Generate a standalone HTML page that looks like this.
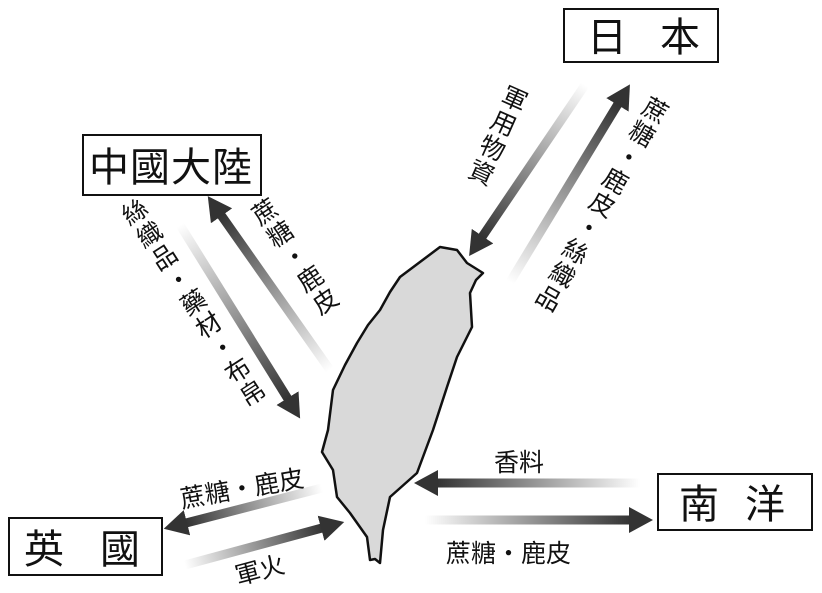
<!DOCTYPE html>
<html><head><meta charset="utf-8"><style>
html,body{margin:0;padding:0;background:#fff;}
svg{display:block;}
text{font-family:"Liberation Sans","Noto Sans CJK TC",sans-serif;fill:#111;}
.v{writing-mode:tb;letter-spacing:2px;}
</style></head><body>
<svg width="822" height="593" viewBox="0 0 822 593" xmlns="http://www.w3.org/2000/svg">
<defs>
<marker id="h" markerUnits="userSpaceOnUse" markerWidth="24" markerHeight="26" refX="1" refY="13" orient="auto"><path d="M0,0 L24,13 L0,26 z" fill="#333"/></marker>
<linearGradient id="g1" gradientUnits="userSpaceOnUse" x1="585" y1="85" x2="482" y2="237"><stop offset="0" stop-color="#fff"/><stop offset="1" stop-color="#333"/></linearGradient>
<linearGradient id="g2" gradientUnits="userSpaceOnUse" x1="510" y1="282" x2="618" y2="104"><stop offset="0" stop-color="#fff"/><stop offset="1" stop-color="#333"/></linearGradient>
<linearGradient id="g3" gradientUnits="userSpaceOnUse" x1="330" y1="370" x2="221" y2="215"><stop offset="0" stop-color="#fff"/><stop offset="1" stop-color="#333"/></linearGradient>
<linearGradient id="g4" gradientUnits="userSpaceOnUse" x1="180" y1="225" x2="288" y2="399"><stop offset="0" stop-color="#fff"/><stop offset="1" stop-color="#333"/></linearGradient>
<linearGradient id="g5" gradientUnits="userSpaceOnUse" x1="322" y1="488" x2="186" y2="523"><stop offset="0" stop-color="#fff"/><stop offset="1" stop-color="#333"/></linearGradient>
<linearGradient id="g6" gradientUnits="userSpaceOnUse" x1="185" y1="565" x2="322" y2="528"><stop offset="0" stop-color="#fff"/><stop offset="1" stop-color="#333"/></linearGradient>
<linearGradient id="g7" gradientUnits="userSpaceOnUse" x1="640" y1="483" x2="437" y2="483"><stop offset="0" stop-color="#fff"/><stop offset="1" stop-color="#333"/></linearGradient>
<linearGradient id="g8" gradientUnits="userSpaceOnUse" x1="425" y1="520" x2="630" y2="520"><stop offset="0" stop-color="#fff"/><stop offset="1" stop-color="#333"/></linearGradient>
</defs>

<path d="M440,247 L457,250 L467,263 L483,273 L476,280 L470,293 L472,327 L457,357 L447,387 L433,430 L417,473 L390,497 L383,530 L380,563 L375,559 L370,560 L367,537 L350,513 L337,497 L333,470 L322,452 L328,430 L333,390 L345,365 L357,343 L368,325 L380,310 L390,292 L400,277 L420,262 Z" fill="#d9d9d9" stroke="#111" stroke-width="2.5" stroke-linejoin="round"/>

<g stroke-width="9" fill="none">
<line x1="585" y1="85" x2="482" y2="237" stroke="url(#g1)" marker-end="url(#h)"/>
<line x1="510" y1="282" x2="618" y2="104" stroke="url(#g2)" marker-end="url(#h)"/>
<line x1="330" y1="370" x2="221" y2="215" stroke="url(#g3)" marker-end="url(#h)"/>
<line x1="180" y1="225" x2="288" y2="399" stroke="url(#g4)" marker-end="url(#h)"/>
<line x1="322" y1="488" x2="186" y2="523" stroke="url(#g5)" marker-end="url(#h)"/>
<line x1="185" y1="565" x2="322" y2="528" stroke="url(#g6)" marker-end="url(#h)"/>
<line x1="640" y1="483" x2="437" y2="483" stroke="url(#g7)" marker-end="url(#h)"/>
<line x1="425" y1="520" x2="630" y2="520" stroke="url(#g8)" marker-end="url(#h)"/>
</g>

<g fill="#fff" stroke="#111" stroke-width="2">
<rect x="564" y="9" width="154" height="53"/>
<rect x="83" y="135" width="178" height="60"/>
<rect x="9" y="518" width="153" height="57"/>
<rect x="658" y="474" width="154" height="56"/>
</g>
<g font-size="40">
<text x="587" y="51">日</text><text x="660" y="51">本</text>
<text x="89" y="181" letter-spacing="1">中國大陸</text>
<text x="24" y="563">英</text><text x="100" y="563">國</text>
<text x="679" y="518">南</text><text x="745" y="518">洋</text>
</g>

<g font-size="25">
<text class="v" transform="translate(518,86) rotate(24)">軍用物資</text>
<text class="v" transform="translate(660,98) rotate(29.5)">蔗糖・鹿皮・絲織品</text>
<text class="v" transform="translate(126,202) rotate(-33)">絲織品・藥材・布帛</text>
<text class="v" transform="translate(256,202) rotate(-34)">蔗糖・鹿皮</text>
<text transform="translate(182,508) rotate(-10)">蔗糖・鹿皮</text>
<text transform="translate(238,585) rotate(-15)">軍火</text>
<text x="494" y="471">香料</text>
<text x="446" y="562">蔗糖・鹿皮</text>
</g>
</svg>
</body></html>
